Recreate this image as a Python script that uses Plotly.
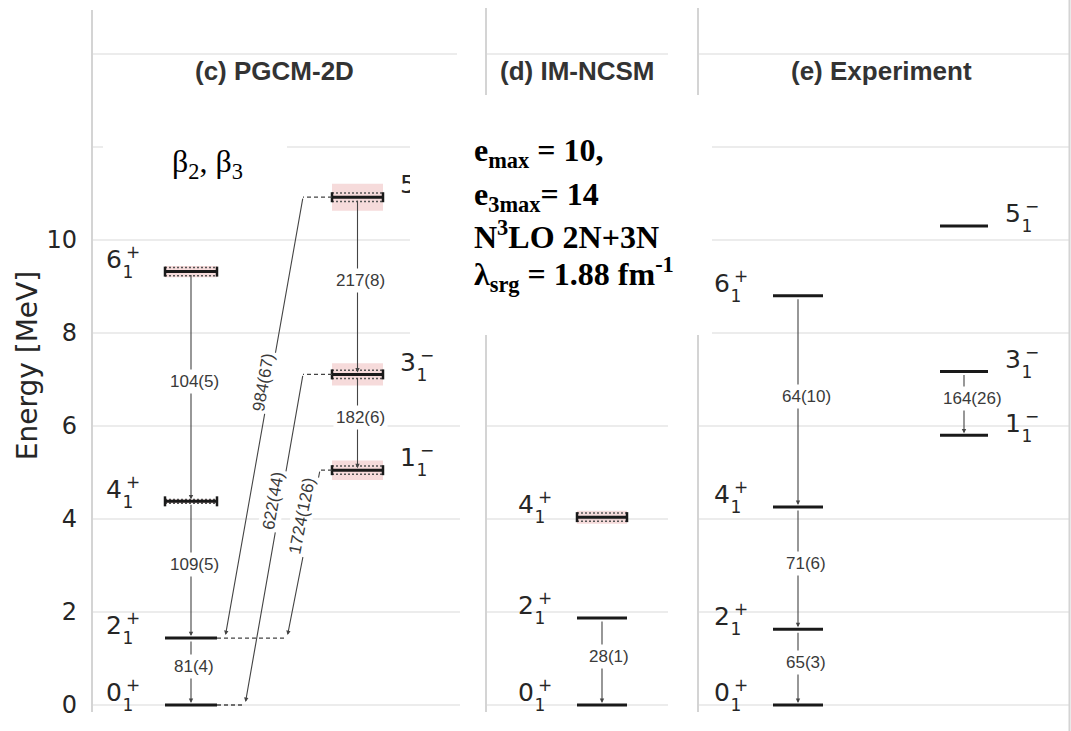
import math
import plotly.graph_objects as go

# ------------------------- data (energies in MeV) -------------------------
# (c) PGCM-2D
c_pos_J = ["0", "2", "4", "6"]
c_pos_E = [0.00, 1.44, 4.38, 9.32]
c_pos_err = [0.00, 0.00, 0.04, 0.12]
c_neg_J = ["1", "3", "5"]
c_neg_E = [5.05, 7.11, 10.92]
c_neg_err = [0.21, 0.24, 0.29]
c_tr_from = ["6+", "4+", "2+", "5-", "3-"]
c_tr_to = ["4+", "2+", "0+", "3-", "1-"]
c_tr_val = ["104(5)", "109(5)", "81(4)", "217(8)", "182(6)"]
c_x_from = ["5-", "3-", "1-"]
c_x_to = ["2+", "0+", "2+"]
c_x_val = ["984(67)", "622(44)", "1724(126)"]

# (d) IM-NCSM
d_pos_J = ["0", "2", "4"]
d_pos_E = [0.00, 1.87, 4.04]
d_pos_err = [0.00, 0.00, 0.14]
d_tr_from = ["2+"]
d_tr_to = ["0+"]
d_tr_val = ["28(1)"]

# (e) Experiment
e_pos_J = ["0", "2", "4", "6"]
e_pos_E = [0.00, 1.63, 4.26, 8.80]
e_pos_err = [0.0, 0.0, 0.0, 0.0]
e_neg_J = ["1", "3", "5"]
e_neg_E = [5.80, 7.17, 10.30]
e_neg_err = [0.0, 0.0, 0.0]
e_tr_from = ["6+", "4+", "2+", "3-"]
e_tr_to = ["4+", "2+", "0+", "1-"]
e_tr_val = ["64(10)", "71(6)", "65(3)", "164(26)"]

energy_ticks = [0, 2, 4, 6, 8, 10]
grid_E = [0, 2, 4, 6, 8, 10, 12, 14]
panel_titles = ["(c) PGCM-2D", "(d) IM-NCSM", "(e) Experiment"]

# ------------------------- geometry / style -------------------------
W, H = 1071, 731
PX = 46.5      # pixels per MeV
Y0 = 705       # pixel row of E = 0
CLIP_C = 410   # right edge of the upper (c) panel crop


def E_at(ypx):
    return (Y0 - ypx) / PX


def dE(px):
    return px / PX


CLIP_ABOVE = E_at(335)   # labels above this row are cut at CLIP_C

COLS = {
    "c+": (165, 217, "left"), "c-": (332, 383, "right"),
    "d+": (577, 627, "left"),
    "e+": (773, 823, "left"), "e-": (940, 988, "right"),
}
c_x_geom = [dict(xs=303, xe=225, t=0.42, dx=-7),
            dict(xs=303, xe=245, t=0.38, dx=-8),
            dict(xs=320, xe=287, t=0.27, dx=-9)]

panels = [
    dict(clip=True, lab_dx=3,
         cols=[("c+", c_pos_J, c_pos_E, c_pos_err, "+"), ("c-", c_neg_J, c_neg_E, c_neg_err, "-")],
         tr=(c_tr_from, c_tr_to, c_tr_val)),
    dict(clip=False, lab_dx=7,
         cols=[("d+", d_pos_J, d_pos_E, d_pos_err, "+")],
         tr=(d_tr_from, d_tr_to, d_tr_val)),
    dict(clip=False, lab_dx=8,
         cols=[("e+", e_pos_J, e_pos_E, e_pos_err, "+"), ("e-", e_neg_J, e_neg_E, e_neg_err, "-")],
         tr=(e_tr_from, e_tr_to, e_tr_val)),
]

INK = "#262626"
LAB_FONT = dict(family="Liberation Sans, Arial", size=17, color="#3a3a3a")

fig = go.Figure()
annotations = []
shapes = []


def add_text(xs, ys, ts, pos, size, xa):
    if xs:
        fig.add_trace(go.Scatter(x=xs, y=ys, mode="text", text=ts, textposition=pos,
                                 textfont=dict(family="DejaVu Sans", size=size, color=INK),
                                 cliponaxis=True, xaxis=xa, yaxis="y", hoverinfo="skip",
                                 showlegend=False))


for p in panels:
    band_x, band_y = [], []
    dot_x, dot_y = [], []
    bar_x, bar_y = [], []
    cap_x, cap_y = [], []
    txt = {"x": ([], [], [], [], [], [], [], [], []), "x2": ([], [], [], [], [], [], [], [], [])}
    lookup = {}
    for key, Js, Es, errs, par in p["cols"]:
        x0, x1, side = COLS[key]
        for J, E, err in zip(Js, Es, errs):
            lookup[J + par] = (key, E)
            if err > 0:
                band_x += [x0, x1, x1, x0, x0, None]
                band_y += [E - err, E - err, E + err, E + err, E - err, None]
                h = min(err, 0.09)
                for s in (-1, 1):
                    dot_x += [x0, x1, None]
                    dot_y += [E + s * h, E + s * h, None]
                for xc in (x0, x1):
                    cap_x += [xc, xc, None]
                    cap_y += [E - dE(5), E + dE(5), None]
            bar_x += [x0, x1, None]
            bar_y += [E, E, None]
            lx = x0 - 59 if side == "left" else x1 + 17
            t = txt["x2" if (p["clip"] and E > CLIP_ABOVE) else "x"]
            t[0].append(lx); t[1].append(E + dE(10)); t[2].append(J)
            t[3].append(lx + 22); t[4].append(E - dE(2)); t[5].append("1")
            t[6].append(lx + 27); t[7].append(E + dE(18))
            t[8].append("+" if par == "+" else "\u2212")

    common = dict(xaxis="x", yaxis="y", hoverinfo="skip", showlegend=False)
    if band_x:
        fig.add_trace(go.Scatter(x=band_x, y=band_y, mode="lines", fill="toself",
                                 fillcolor="rgba(236,176,176,0.45)", line=dict(width=0), **common))
        fig.add_trace(go.Scatter(x=dot_x, y=dot_y, mode="lines",
                                 line=dict(color="#555555", width=1.5, dash="2px,2px"), **common))
        fig.add_trace(go.Scatter(x=cap_x, y=cap_y, mode="lines",
                                 line=dict(color="#1a1a1a", width=2.5), **common))
    fig.add_trace(go.Scatter(x=bar_x, y=bar_y, mode="lines",
                             line=dict(color="#1a1a1a", width=3), **common))
    for xa, t in txt.items():
        add_text(t[0], t[1], t[2], "middle right", 25, xa)
        add_text(t[3], t[4], t[5], "middle center", 17, xa)
        add_text(t[6], t[7], t[8], "middle center", 17, xa)

    # in-band transitions (vertical arrows)
    arrows, labels = [], []
    for fr, to, val in zip(*p["tr"]):
        key, Ef = lookup[fr]
        _, Et = lookup[to]
        x0, x1, _ = COLS[key]
        xc = (x0 + x1) / 2
        arrows.append(dict(x=xc, y=Et, ax=xc, ay=Ef, xref="x", yref="y", axref="x", ayref="y",
                           text="", showarrow=True, arrowhead=2, arrowsize=0.8, arrowwidth=1.1,
                           arrowcolor="#444444", standoff=2, startstandoff=2))
        labels.append(dict(x=xc + p["lab_dx"], y=(Ef + Et) / 2, yshift=5, xref="x", yref="y",
                           text=val, showarrow=False, bgcolor="white", borderpad=2, font=LAB_FONT))
    p["arrows"], p["labels"] = arrows, labels
    p["lookup"] = lookup

# cross transitions in panel (c)
pc = panels[0]
ext_x, ext_y = [], []
to_ext = {}
for fr, to, val, g in zip(c_x_from, c_x_to, c_x_val, c_x_geom):
    _, Ef = pc["lookup"][fr]
    _, Et = pc["lookup"][to]
    neg_x0 = COLS["c-"][0]
    ext_x += [neg_x0, g["xs"], None]
    ext_y += [Ef, Ef, None]
    to_ext[to] = max(to_ext.get(to, 0), g["xe"])
    pc["arrows"].append(dict(x=g["xe"], y=Et, ax=g["xs"], ay=Ef, xref="x", yref="y", axref="x",
                             ayref="y", text="", showarrow=True, arrowhead=2, arrowsize=0.8,
                             arrowwidth=1.1, arrowcolor="#444444", standoff=3, startstandoff=0))
    ys_px, ye_px = Y0 - PX * Ef, Y0 - PX * Et
    lx = g["xs"] + g["t"] * (g["xe"] - g["xs"]) + g["dx"]
    ly_px = ys_px + g["t"] * (ye_px - ys_px)
    ang = math.degrees(math.atan2(ys_px - ye_px, g["xs"] - g["xe"]))
    pc["labels"].append(dict(x=lx, y=E_at(ly_px), xref="x", yref="y", text=val, showarrow=False,
                             textangle=ang, bgcolor="white", borderpad=1, font=LAB_FONT))
for to, xe in to_ext.items():
    _, Et = pc["lookup"][to]
    ext_x += [COLS["c+"][1], xe, None]
    ext_y += [Et, Et, None]
fig.add_trace(go.Scatter(x=ext_x, y=ext_y, mode="lines", xaxis="x", yaxis="y",
                         line=dict(color="#444444", width=1.3, dash="4px,3px"),
                         hoverinfo="skip", showlegend=False))

for p in panels:
    annotations += p["arrows"]
for p in panels:
    annotations += p["labels"]

# ------------------------- decorations -------------------------
GRID = "#e6e6e6"
grid_spans = {
    0: [(91, 460), (486, 668), (698, 1069)],
    2: [(91, 460), (486, 668), (698, 1069)],
    4: [(91, 460), (486, 668), (698, 1069)],
    6: [(91, 460), (486, 668), (698, 1069)],
    8: [(91, 410), (712, 1069)],
    10: [(91, 410), (712, 1069)],
    12: [(91, 103), (287, 410), (712, 1069)],
    14: [(91, 457), (486, 668), (698, 1069)],
}
for g in grid_E:
    for a, b in grid_spans[g]:
        shapes.append(dict(type="line", xref="x", yref="y", x0=a, x1=b, y0=g, y1=g,
                           line=dict(color=GRID, width=1.5), layer="below"))
for xv, ya, yb in [(92, 10, 712), (486, 8, 95), (486, 335, 712), (698, 8, 95),
                   (698, 335, 712), (1069.5, 0, 731)]:
    shapes.append(dict(type="line", xref="x", yref="y", x0=xv, x1=xv, y0=E_at(ya), y1=E_at(yb),
                       line=dict(color="#d4d4d4", width=2), layer="below"))

for t_, xc in zip(panel_titles, [274, 577, 881]):
    annotations.append(dict(x=xc, y=E_at(71), xref="x", yref="y", text="<b>" + t_ + "</b>",
                            showarrow=False, font=dict(family="Liberation Sans, Arial", size=26,
                                                       color="#333333")))

annotations.append(dict(x=207, y=E_at(163), xref="x", yref="y",
                        text="β<sub>2</sub>, β<sub>3</sub>", showarrow=False,
                        font=dict(family="Liberation Serif", size=32, color="black")))

info_lines = ["e<sub>max</sub> = 10,", "e<sub>3max</sub>= 14", "N<sup>3</sup>LO 2N+3N",
              "λ<sub>srg</sub> = 1.88 fm<sup>-1</sup>"]
for t_, ypx in zip(info_lines, [152, 196, 235, 274]):
    annotations.append(dict(x=472, y=E_at(ypx), xref="x", yref="y", xanchor="left",
                            text="<b>" + t_ + "</b>", showarrow=False,
                            font=dict(family="Liberation Serif", size=32, color="black")))

fig.update_layout(
    width=W, height=H, margin=dict(l=91, r=0, t=0, b=0),
    paper_bgcolor="white", plot_bgcolor="rgba(0,0,0,0)", showlegend=False,
    xaxis=dict(domain=[0, 1], range=[91, W], visible=False, fixedrange=True, anchor="y"),
    xaxis2=dict(domain=[0, (CLIP_C - 91) / (W - 91)], range=[91, CLIP_C],
                visible=False, anchor="y"),
    yaxis=dict(range=[E_at(H), E_at(0)], tickvals=energy_ticks,
               ticktext=[str(v) for v in energy_ticks], showgrid=False, zeroline=False,
               showline=False, ticks="", ticklabelstandoff=13, automargin=False,
               tickfont=dict(family="DejaVu Sans", size=24, color=INK),
               title=dict(text="Energy [MeV]", standoff=0,
                          font=dict(family="DejaVu Sans", size=28, color=INK))),
    shapes=shapes, annotations=annotations,
)

fig.write_html("out.html")
